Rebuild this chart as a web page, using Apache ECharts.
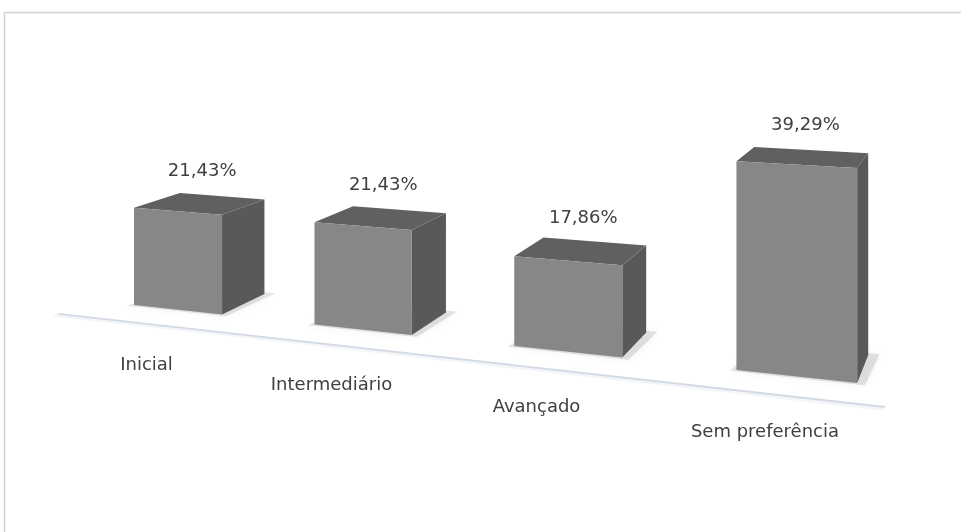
<!DOCTYPE html>
<html>
<head>
<meta charset="utf-8">
<script src="https://cdn.jsdelivr.net/npm/echarts@6/dist/echarts.min.js"></script>
<style>html,body{margin:0;padding:0;background:#fff;}#c{width:961px;height:532px;}</style>
</head>
<body>
<div id="c"></div>
<script>
const categories = ['Inicial', 'Intermediário', 'Avançado', 'Sem preferência'];
const values = [21.43, 21.43, 17.86, 39.29];

// camera / perspective parameters (style)
const PERSP = 2.77e-4;     // perspective strength per flat pixel
const HORIZON_Y = -79;     // screen y of horizon
const VANISH_X = 1040;     // screen x of depth vanishing point
const DEPTH = 0.054;       // bar depth (in perspective units)
const FLOOR_FRONT = -0.035;
const BAR_RATIO = 0.5;
const FONT = '18px "DejaVu Sans", Verdana, sans-serif';

function makeProj(api) {
  const uRef = api.coord([0, 0])[0];
  return function (u, v, dq) {
    const z = 1 - PERSP * (u - uRef);
    const sx = uRef + (u - uRef) / z;
    const sy = HORIZON_Y + (v - HORIZON_Y) / z;
    const w = dq / (z + dq);
    return [sx + (VANISH_X - sx) * w, sy + (HORIZON_Y - sy) * w];
  };
}

function renderBar(params, api) {
  const proj = makeProj(api);
  const i = api.value(0), v = api.value(1);
  const c0 = api.coord([i, 0]);
  const c1 = api.coord([i, v]);
  const half = api.size([1, 0])[0] * BAR_RATIO / 2;
  const uL = c0[0] - half, uR = c0[0] + half, vB = c0[1], vT = c1[1];
  const D = DEPTH;
  const front = [proj(uL, vB, 0), proj(uR, vB, 0), proj(uR, vT, 0), proj(uL, vT, 0)];
  const top = [proj(uL, vT, 0), proj(uR, vT, 0), proj(uR, vT, D), proj(uL, vT, D)];
  const side = [proj(uR, vB, 0), proj(uR, vB, D), proj(uR, vT, D), proj(uR, vT, 0)];
  const shadow = [proj(uL - 4, vB, -0.003), proj(uR + 6, vB, -0.003), proj(uR + 8, vB, D + 0.004), proj(uL + 4, vB, D + 0.004)];
  const mid = proj(c0[0], vT, D / 2);
  const base = proj(c0[0], vB, 0);
  return {
    type: 'group',
    children: [
      { type: 'polygon', shape: { points: shadow }, style: { fill: 'rgba(0,0,0,0.10)', shadowBlur: 10, shadowColor: 'rgba(0,0,0,0.45)' } },
      { type: 'polygon', shape: { points: side }, style: { fill: '#595959' } },
      { type: 'polygon', shape: { points: top }, style: { fill: '#606060' } },
      { type: 'polygon', shape: { points: front }, style: { fill: '#878787' } },
      { type: 'text', x: mid[0] + 2, y: mid[1] - 32,
        style: { text: v.toFixed(2).replace('.', ',') + '%', fill: '#404040', font: FONT, align: 'center', verticalAlign: 'middle' } },
      { type: 'text', x: base[0] - 31, y: base[1] + 56,
        style: { text: categories[i], fill: '#404040', font: FONT, align: 'center', verticalAlign: 'middle' } }
    ]
  };
}

function renderFloor(params, api) {
  const proj = makeProj(api);
  const n = categories.length;
  const half = api.size([1, 0])[0] / 2;
  const uA = api.coord([0, 0])[0] - half;
  const uB = api.coord([n - 1, 0])[0] + half;
  const v0 = api.coord([0, 0])[1];
  const a = proj(uA, v0, FLOOR_FRONT), b = proj(uB - 20, v0, FLOOR_FRONT);
  const a2 = proj(uA, v0, FLOOR_FRONT - 0.006), b2 = proj(uB - 20, v0, FLOOR_FRONT - 0.006);
  return {
    type: 'group',
    children: [
      { type: 'polygon', shape: { points: [a, b, b2, a2] }, style: { fill: '#f3f5f8' } },
      { type: 'line', shape: { x1: a[0], y1: a[1], x2: b[0], y2: b[1] }, style: { stroke: '#d3dae3', lineWidth: 2 } }
    ]
  };
}

const chart = echarts.init(document.getElementById('c'));
chart.setOption({
  animation: false,
  backgroundColor: '#ffffff',
  graphic: [
    { type: 'rect', shape: { x: 4.5, y: 12.5, width: 1000, height: 600 }, style: { fill: 'none', stroke: '#d3d3d3', lineWidth: 1.5 }, silent: true }
  ],
  grid: { left: 89.5, right: 167.5, top: 125.7, bottom: 222.3 },
  xAxis: { type: 'category', data: categories, show: false },
  yAxis: { type: 'value', min: 0, max: 40, show: false },
  series: [
    { type: 'custom', name: 'floor', renderItem: renderFloor, data: [[0, 0]], silent: true, z: 1 },
    { type: 'custom', name: 'bars', renderItem: renderBar, data: values.map((v, i) => [i, v]), z: 2 }
  ]
});
</script>
</body>
</html>
